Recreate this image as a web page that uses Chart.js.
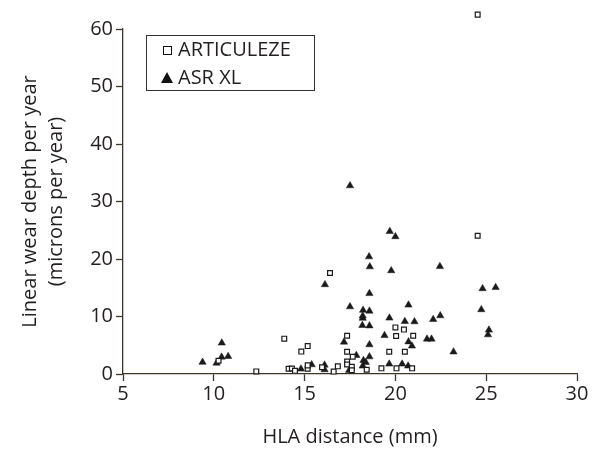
<!DOCTYPE html>
<html>
<head>
<meta charset="utf-8">
<script src="https://cdn.jsdelivr.net/npm/chart.js@4"></script>
<style>
  html, body { margin: 0; background: #fff; }
  #wrap { width: 592px; height: 452px; }
</style>
</head>
<body>
<div id="wrap"><canvas id="chart"></canvas></div>
<script>
// ARTICULEZE (open squares)
const artX = [10.26, 12.34, 13.88, 15.17, 14.82, 14.12, 14.3, 14.47, 15.17, 15.17, 15.96, 16.6, 16.83, 16.4,
  17.34, 17.34, 17.34, 17.34, 17.65, 17.6, 17.6, 18.42, 19.23, 19.66, 20.0, 20.47, 20.04, 20.98, 20.52,
  20.06, 20.92, 24.53, 24.53];
const artY = [2.3, 0.45, 6.15, 4.85, 3.9, 0.92, 0.95, 0.55, 0.92, 1.5, 1.18, 0.42, 1.33, 17.56,
  6.66, 3.88, 2.17, 1.65, 3.0, 1.27, 0.65, 0.75, 0.98, 3.88, 8.1, 7.72, 6.6, 6.66, 3.88,
  0.98, 0.98, 62.5, 24.05];

// ASR XL (filled triangles)
const asrX = [9.38, 10.15, 10.43, 10.44, 10.79, 14.8, 15.39, 16.1, 16.1, 16.12, 17.17, 17.45, 17.5, 17.5,
  17.85, 18.55, 18.59, 18.57, 18.22, 18.57, 18.2, 18.2, 18.18, 18.57, 18.57, 18.57, 18.24, 18.37, 18.2,
  19.69, 20.0, 19.77, 19.67, 19.4, 19.66, 20.72, 20.52, 21.05, 20.72, 20.91, 20.37, 20.7, 21.74, 21.99,
  22.08, 22.47, 22.45, 23.2, 24.73, 24.8, 25.52, 25.15, 25.1];
const asrY = [2.05, 1.9, 2.95, 5.4, 3.06, 0.87, 1.62, 1.56, 0.75, 15.55, 5.56, 0.63, 11.7, 32.75,
  3.24, 20.4, 18.65, 14.0, 11.1, 10.95, 10.1, 9.7, 8.45, 8.38, 5.1, 3.0, 2.37, 2.02, 1.39,
  24.8, 23.9, 17.97, 9.74, 6.7, 1.74, 12.0, 9.15, 9.1, 5.6, 4.88, 1.74, 1.4, 6.08, 6.08,
  9.5, 10.15, 18.7, 3.85, 11.2, 14.85, 15.05, 7.65, 6.83];

const seriesNames = ['ARTICULEZE', 'ASR XL'];
const xTitle = 'HLA distance (mm)';
const yTitle = ['Linear wear depth per year', '(microns per year)'];

const FONT = '"Open Sans", sans-serif';
const TEXT = '#231f20';
const AXIS = '#3f3528';

const toPoints = (xs, ys) => xs.map((x, i) => ({ x, y: ys[i] }));

// points above the 60 tick (chart.js skips them) - draw them at their scale position
const outsidePoints = {
  id: 'outsidePoints',
  afterDatasetsDraw(chart) {
    const { ctx, chartArea } = chart;
    chart.data.datasets.forEach((ds, i) => {
      chart.getDatasetMeta(i).data.forEach(el => {
        if (el.y >= chartArea.top - 1) return;
        const o = el.options;
        ctx.save();
        ctx.fillStyle = o.backgroundColor;
        ctx.strokeStyle = o.borderColor;
        ctx.lineWidth = o.borderWidth;
        Chart.helpers.drawPoint(ctx, o, el.x, el.y);
        ctx.restore();
      });
    });
  }
};

// legend drawn inside the plot, top-left, with a frame
const boxLegend = {
  id: 'boxLegend',
  afterDraw(chart) {
    const { ctx, chartArea } = chart;
    const x = chartArea.left + 23, y = chartArea.top + 6;
    ctx.save();
    ctx.strokeStyle = '#333';
    ctx.lineWidth = 1;
    ctx.strokeRect(x + 0.5, y + 0.5, 168, 55);
    ctx.font = '20px ' + FONT;
    ctx.fillStyle = TEXT;
    ctx.textBaseline = 'middle';
    // square
    let cy = y + 15;
    ctx.strokeStyle = '#111';
    ctx.strokeRect(x + 17.5, cy - 3.5, 8, 8);
    ctx.fillText(seriesNames[0], x + 32, cy);
    // triangle
    cy = y + 43;
    ctx.fillStyle = '#111';
    ctx.beginPath();
    ctx.moveTo(x + 21, cy - 6);
    ctx.lineTo(x + 27, cy + 5);
    ctx.lineTo(x + 15, cy + 5);
    ctx.closePath();
    ctx.fill();
    ctx.fillStyle = TEXT;
    ctx.fillText(seriesNames[1], x + 32, cy);
    ctx.restore();
  }
};

new Chart(document.getElementById('chart'), {
  type: 'scatter',
  data: {
    datasets: [
      {
        label: seriesNames[0],
        data: toPoints(artX, artY),
        clip: false,
        pointStyle: 'rect',
        pointRadius: 3.4,
        pointBorderWidth: 1.2,
        pointBorderColor: '#1a1a1a',
        pointBackgroundColor: '#fff'
      },
      {
        label: seriesNames[1],
        data: toPoints(asrX, asrY),
        clip: false,
        pointStyle: 'triangle',
        pointRadius: 4.2,
        pointBorderWidth: 0.5,
        pointBorderColor: '#1a1a1a',
        pointBackgroundColor: '#1a1a1a'
      }
    ]
  },
  options: {
    responsive: true,
    maintainAspectRatio: false,
    animation: false,
    layout: { padding: { top: 29, right: 15, left: 0, bottom: 0 } },
    plugins: {
      legend: { display: false },
      tooltip: { enabled: false }
    },
    scales: {
      x: {
        type: 'linear',
        min: 5, max: 30,
        afterFit: s => { s.height = 78; },
        ticks: { stepSize: 5, color: TEXT, font: { family: FONT, size: 20 }, padding: 1 },
        grid: { drawOnChartArea: false, drawTicks: true, tickLength: 7, color: AXIS, tickWidth: 1.3 },
        border: { color: AXIS, width: 1.3 },
        title: {
          display: true, text: xTitle, color: TEXT,
          font: { family: FONT, size: 20, lineHeight: 1.3 },
          padding: { top: 0, bottom: 2 }
        }
      },
      y: {
        min: 0, max: 60,
        afterFit: s => { s.width = 123; },
        ticks: { stepSize: 10, color: TEXT, font: { family: FONT, size: 20 }, padding: 3 },
        grid: { drawOnChartArea: false, drawTicks: true, tickLength: 7, color: AXIS, tickWidth: 1.3 },
        border: { color: AXIS, width: 1.3 },
        title: {
          display: true, text: yTitle, color: TEXT,
          font: { family: FONT, size: 20, lineHeight: 1.3 },
          padding: { top: 17, bottom: 0 }
        }
      }
    }
  },
  plugins: [outsidePoints, boxLegend]
});
</script>
</body>
</html>
